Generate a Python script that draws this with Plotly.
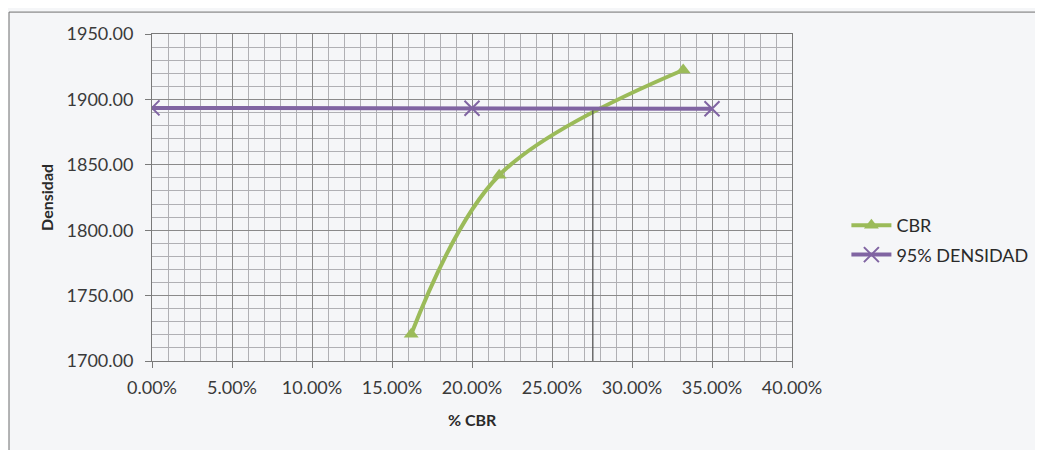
import plotly.graph_objects as go

# Data
cbr_x = [0.162, 0.217, 0.332]          # % CBR
cbr_y = [1720.5, 1842.0, 1922.5]       # Densidad
dens95_x = [0.0, 0.20, 0.35]
dens95_y = [1893.5, 1893.2, 1892.8]
cruce_x = [0.2755, 0.2755]             # vertical reading line at intersection
cruce_y = [1700.0, 1891.5]

x_ticks = [0.0, 0.05, 0.10, 0.15, 0.20, 0.25, 0.30, 0.35, 0.40]
y_ticks = [1700, 1750, 1800, 1850, 1900, 1950]

FONT = "Lato"
GREEN = "#9BBB59"
PURPLE = "#8064A2"
BG = "#f5f6f8"

fig = go.Figure()

fig.add_trace(go.Scatter(
    x=cbr_x, y=cbr_y, name="CBR", mode="lines+markers",
    line=dict(color=GREEN, width=4, shape="spline", smoothing=1.0),
    marker=dict(symbol="triangle-up", size=13, color=GREEN),
    legendgroup="a",
))
fig.add_trace(go.Scatter(
    x=dens95_x, y=dens95_y, name="95% DENSIDAD", mode="lines+markers",
    line=dict(color=PURPLE, width=4),
    marker=dict(symbol="x-thin", size=15, line=dict(color=PURPLE, width=2)),
    legendgroup="b",
))
fig.add_trace(go.Scatter(
    x=cruce_x, y=cruce_y, mode="lines", showlegend=False,
    line=dict(color="#555555", width=1.3), hoverinfo="skip",
))

axis_common = dict(
    showline=True, linecolor="#7a7a7a", linewidth=1, mirror=True,
    ticks="outside", ticklen=6, tickcolor="#7a7a7a",
    showgrid=True, gridcolor="#8a8a8a", gridwidth=1,
    zeroline=False,
    tickfont=dict(family=FONT, size=18, color="#3a3a3a"),
)

fig.update_xaxes(
    range=[0, 0.40], tickvals=x_ticks, tickformat=".2%",
    minor=dict(dtick=0.01, showgrid=True, gridcolor="#b0b0b4", gridwidth=1, ticks=""),
    ticklabelstandoff=4,
    **axis_common,
)
fig.update_yaxes(
    range=[1700, 1950], tickvals=y_ticks, tickformat=".2f",
    minor=dict(dtick=10, showgrid=True, gridcolor="#b0b0b4", gridwidth=1, ticks=""),
    ticklabelstandoff=8,
    **axis_common,
)

fig.update_layout(
    width=1035, height=442, autosize=False,
    margin=dict(l=144, r=251, t=26, b=89, pad=0, autoexpand=False),
    paper_bgcolor=BG, plot_bgcolor=BG,
    font=dict(family=FONT, color="#2a2a2a"),
    showlegend=True,
    legend=dict(
        x=1.085, y=0.37, xanchor="left", yanchor="middle",
        bgcolor="rgba(0,0,0,0)", borderwidth=0,
        font=dict(family=FONT, size=18, color="#2a2a2a"),
        tracegroupgap=3, itemwidth=40,
    ),
    annotations=[
        dict(text="<b>% CBR</b>", xref="paper", yref="paper", x=0.5, y=-0.18,
             xanchor="center", yanchor="middle", showarrow=False,
             font=dict(family=FONT, size=16, color="#2a2a2a")),
        dict(text="<b>Densidad</b>", xref="paper", yref="paper", x=-0.165, y=0.5,
             xanchor="center", yanchor="middle", textangle=-90, showarrow=False,
             font=dict(family=FONT, size=16, color="#2a2a2a")),
    ],
    shapes=[
        dict(type="rect", xref="paper", yref="paper",
             x0=-0.2234, x1=1.6, y0=-0.6, y1=1.067,
             line=dict(color="#707070", width=1), layer="below"),
    ],
)

fig.write_html("out.html")
